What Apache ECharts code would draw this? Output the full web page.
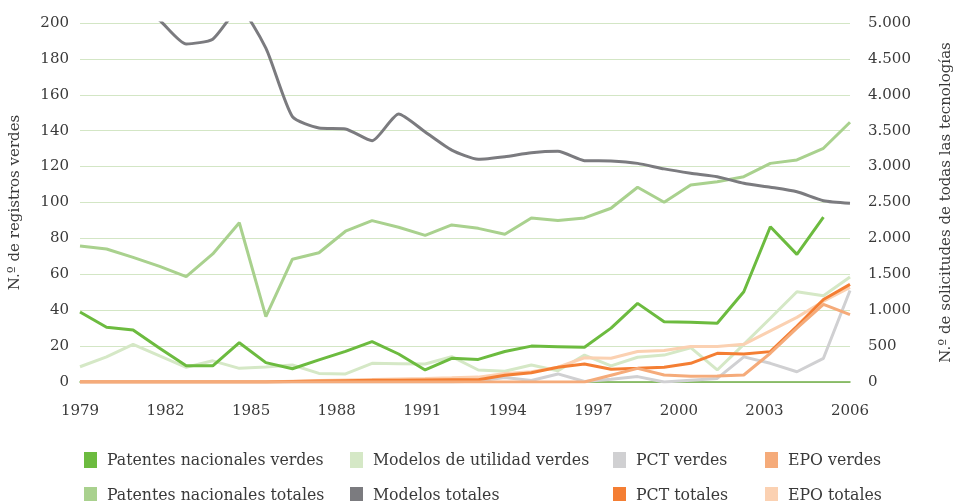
<!DOCTYPE html>
<html>
<head>
<meta charset="utf-8">
<script src="https://cdn.jsdelivr.net/npm/echarts@6/dist/echarts.min.js"></script>
<style>
html,body{margin:0;padding:0;background:#fff;}
#chart{width:962px;height:501px;}
</style>
</head>
<body>
<div id="chart"></div>
<script>
// Tick labels (visible axis) and the 30 data positions
var years = [1979,1980,1981,1982,1983,1984,1985,1986,1987,1988,1989,1990,1991,1992,1993,1994,1995,1996,1997,1998,1999,2000,2001,2002,2003,2004,2005,2006];
var periods = ['1','2','3','4','5','6','7','8','9','10','11','12','13','14','15','16','17','18','19','20','21','22','23','24','25','26','27','28','29','30'];

// Left axis series (N.º de registros verdes)
var patentesNacionalesVerdes = [39,30.5,29,18.8,9,9,21.9,10.8,7.4,12.3,17.1,22.5,15.6,6.7,13.2,12.6,17,20,19.7,19.4,30,43.8,33.6,33.3,32.7,50.3,86.5,71.1,91.8,null];
var modelosUtilidadVerdes = [8.5,14,21,14.5,8.2,11.8,7.6,8.3,9.5,4.8,4.5,10.4,10.2,10,14.1,6.7,6,9.5,6.3,15,9,13.8,15,19.1,6.7,21,35.5,50.3,48,58.5];
var pctVerdes = [0,0,0,0,0,0,0,0,0,0,0,0,0,0,0,0.5,2.5,0.8,4.5,0.3,1.5,3,0,1,2,14,10.4,5.7,13.2,51];
var epoVerdes = [0,0,0,0,0,0,0,0,0,0,0,0,0,0,0,0,0,0,0,0,3.8,7.6,3.9,3.2,3.3,3.9,16,30,43.3,37.5];

// Right axis series (N.º de solicitudes de todas las tecnologías)
var patentesNacionalesTotales = [1895,1853,1735,1610,1468,1783,2218,910,1710,1800,2100,2248,2155,2043,2188,2140,2058,2285,2248,2285,2420,2713,2503,2743,2790,2860,3045,3093,3255,3618];
var modelosTotales = [5875,5625,5300,5038,4708,4775,5200,4650,3695,3538,3525,3360,3733,3483,3230,3103,3138,3193,3213,3083,3078,3045,2968,2908,2860,2768,2713,2650,2525,2490];
var pctTotales = [0,0,0,0,0,0,0,0,8,13,18,23,25,28,30,30,93,130,205,250,178,190,205,260,400,390,423,775,1150,1360];
var epoTotales = [0,0,0,0,0,0,0,0,10,20,28,35,43,50,58,68,120,143,205,338,330,425,438,495,495,525,713,900,1125,1318];

var leftTicks = {min:0, max:200, interval:20};
var rightTicks = {min:0, max:5000, interval:500};

var serifFont = 'DejaVu Serif';
var legendFont = 'DejaVu Serif Condensed';
var textColor = '#3a3a3a';

function thousands(v){
  if (v >= 1000) { var r = v % 1000; return Math.floor(v/1000) + '.' + (r < 10 ? '00' : r < 100 ? '0' : '') + r; }
  return String(v);
}

function mkLine(name, data, color, yIdx, width, extra){
  var s = {
    name: name, type: 'line', data: data, xAxisIndex: 1, yAxisIndex: yIdx,
    symbol: 'none', color: color,
    lineStyle: {color: color, width: width},
    itemStyle: {color: color},
    emphasis: {disabled: true},
    animation: false
  };
  if (extra) for (var k in extra) s[k] = extra[k];
  return s;
}

var chart = echarts.init(document.getElementById('chart'), null, {renderer:'canvas'});

function legendCol(left, names){
  return {
    orient: 'vertical', left: left, top: 451, height: 60, padding: 0,
    icon: 'rect', itemWidth: 13, itemHeight: 16, itemGap: 17,
    data: names, selectedMode: false,
    textStyle: {fontFamily: legendFont, fontSize: 17.5, color: textColor, lineHeight: 16, padding: [0,0,0,5]}
  };
}

chart.setOption({
  backgroundColor: '#ffffff',
  animation: false,
  grid: {left: 80, right: 94, top: 23, bottom: 119, containLabel: false},
  legend: [
    legendCol(84, ['Patentes nacionales verdes', 'Patentes nacionales totales']),
    legendCol(350, ['Modelos de utilidad verdes', 'Modelos totales']),
    legendCol(613, ['PCT verdes', 'PCT totales']),
    legendCol(765, ['EPO verdes', 'EPO totales'])
  ],
  xAxis: [
    {
      type: 'category', data: years, boundaryGap: false, position: 'bottom',
      axisLine: {show: true, lineStyle: {color: '#70ad47', width: 1.5}},
      axisTick: {show: false},
      axisLabel: {interval: 2, fontFamily: serifFont, fontSize: 15, color: textColor, margin: 22},
      splitLine: {show: false}
    },
    {
      type: 'category', data: periods, boundaryGap: false, show: false
    }
  ],
  yAxis: [
    {
      type: 'value', min: leftTicks.min, max: leftTicks.max, interval: leftTicks.interval,
      name: 'N.º de registros verdes', nameLocation: 'middle', nameGap: 57, nameRotate: 90,
      nameTextStyle: {fontFamily: serifFont, fontSize: 15, color: textColor},
      axisLine: {show: false}, axisTick: {show: false},
      axisLabel: {fontFamily: serifFont, fontSize: 15, color: textColor, margin: 11},
      splitLine: {show: true, lineStyle: {color: '#d3e6c5', width: 1.2}}
    },
    {
      type: 'value', min: rightTicks.min, max: rightTicks.max, interval: rightTicks.interval,
      position: 'right',
      name: 'N.º de solicitudes de todas las tecnologías', nameLocation: 'middle', nameGap: 89, nameRotate: 90,
      nameTextStyle: {fontFamily: serifFont, fontSize: 15, color: textColor},
      axisLine: {show: false}, axisTick: {show: false},
      axisLabel: {fontFamily: serifFont, fontSize: 15, color: textColor, margin: 18, formatter: thousands},
      splitLine: {show: false}
    }
  ],
  series: [
    mkLine('Patentes nacionales totales', patentesNacionalesTotales, '#a9d18e', 1, 3),
    mkLine('Modelos totales', modelosTotales, '#7b7b7f', 1, 3, {smooth: 0.2}),
    mkLine('Modelos de utilidad verdes', modelosUtilidadVerdes, '#d5e8c6', 0, 3),
    mkLine('PCT verdes', pctVerdes, '#d0d0d2', 0, 3),
    mkLine('EPO totales', epoTotales, '#fbd1b2', 1, 3),
    mkLine('PCT totales', pctTotales, '#f47e33', 1, 3),
    mkLine('EPO verdes', epoVerdes, '#f5ab7a', 0, 3),
    mkLine('Patentes nacionales verdes', patentesNacionalesVerdes, '#6cbb3f', 0, 3)
  ]
});
</script>
</body>
</html>
